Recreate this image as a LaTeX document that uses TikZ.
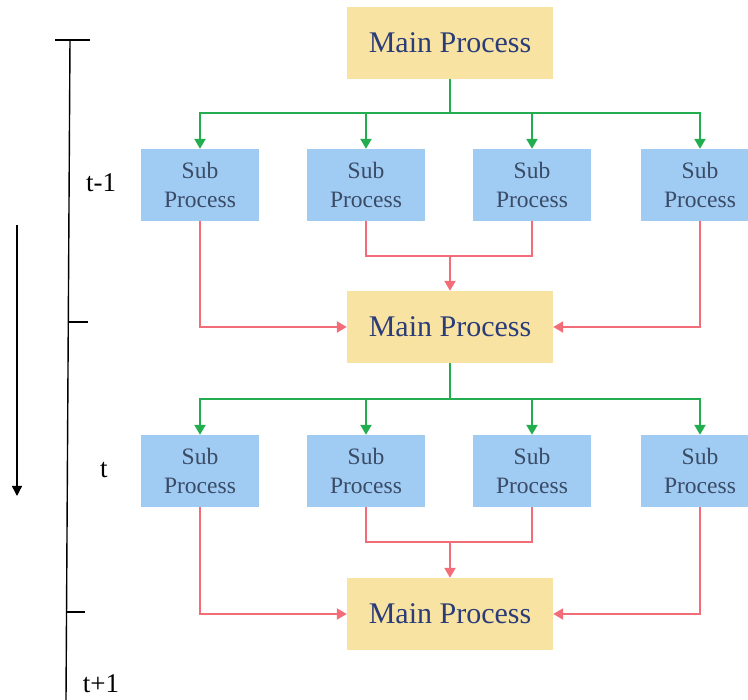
\documentclass[tikz,border=0pt]{standalone}
\usepackage{fontspec}
\setmainfont{Liberation Serif}
\usetikzlibrary{arrows.meta,positioning}
\definecolor{mainfill}{HTML}{F9E3A3}
\definecolor{mainink}{HTML}{2B3D78}
\definecolor{subfill}{HTML}{A0CBF3}
\definecolor{subink}{HTML}{3A4B66}
\definecolor{greenline}{HTML}{22AE4E}
\definecolor{redline}{HTML}{F26D78}
\tikzstyle{mainbox} = [fill=mainfill,minimum width=206pt,minimum height=72pt,text=mainink,font=\fontsize{30}{33}\selectfont,inner sep=0pt]
\tikzstyle{subbox} = [fill=subfill,minimum width=118pt,minimum height=72pt,text=subink,align=center,font=\fontsize{23.5}{29}\selectfont,inner sep=0pt]
\tikzstyle{greenarrow} = [draw=greenline,line width=2.2pt,-{Triangle[width=11pt,length=10pt]}]
\tikzstyle{greenstem} = [draw=greenline,line width=2.2pt]
\tikzstyle{redarrow} = [draw=redline,line width=2.2pt,-{Triangle[width=11pt,length=10pt]}]
\tikzstyle{redjoin} = [draw=redline,line width=2.2pt]
\tikzstyle{timeline} = [line width=1.4pt]
\tikzstyle{timelabel} = [font=\fontsize{27}{30}\selectfont,inner sep=1pt]

\begin{document}
\begin{tikzpicture}[x=1pt,y=-1pt]
\useasboundingbox (0,0) rectangle (748,700);

% time axis
\coordinate (top) at (70,40);
\coordinate (bot) at (66,700);
\draw [timeline] (top) -- (bot);
\draw [timeline] (55,40) -- (90,40);
\draw [timeline] (69,322) -- (88,322);
\draw [timeline] (67,612) -- (85,612);
\node [timelabel] (tprev) at (101,183) {t-1};
\node [timelabel] (tnow) at (104,470) {t};
\node [timelabel] (tnext) at (101,684) {t+1};
\coordinate (dirA) at (17,225);
\coordinate (dirB) at (17,496);
\draw [timeline,-{Triangle[width=10pt,length=10pt]}] (dirA) -- (dirB);

% main processes
\node [mainbox] (main1) at (450,43) {Main Process};
\node [mainbox] (main2) at (450,327) {Main Process};
\node [mainbox] (main3) at (450,614) {Main Process};

% sub processes
\foreach \x [count=\i] in {200,366,532,700}{
  \node [subbox] (subA\i) at (\x,185) {Sub\\Process};
  \node [subbox] (subB\i) at (\x,471) {Sub\\Process};
}

% fan out
\coordinate (forkA) at (450,113);
\coordinate (forkB) at (450,399);
\draw [greenstem] (main1.south) -- (forkA);
\draw [greenstem] (main2.south) -- (forkB);
\foreach \i in {1,...,4}{
  \draw [greenarrow] (forkA) -| (subA\i.north);
  \draw [greenarrow] (forkB) -| (subB\i.north);
}

% gather
\coordinate (joinA) at (450,256);
\coordinate (joinB) at (450,542);
\draw [redarrow] (subA1.south) |- (main2.west);
\draw [redarrow] (subA4.south) |- (main2.east);
\draw [redjoin] (subA2.south) |- (joinA) -| (subA3.south);
\draw [redarrow] (joinA) -- (main2.north);
\draw [redarrow] (subB1.south) |- (main3.west);
\draw [redarrow] (subB4.south) |- (main3.east);
\draw [redjoin] (subB2.south) |- (joinB) -| (subB3.south);
\draw [redarrow] (joinB) -- (main3.north);
\end{tikzpicture}
\end{document}
